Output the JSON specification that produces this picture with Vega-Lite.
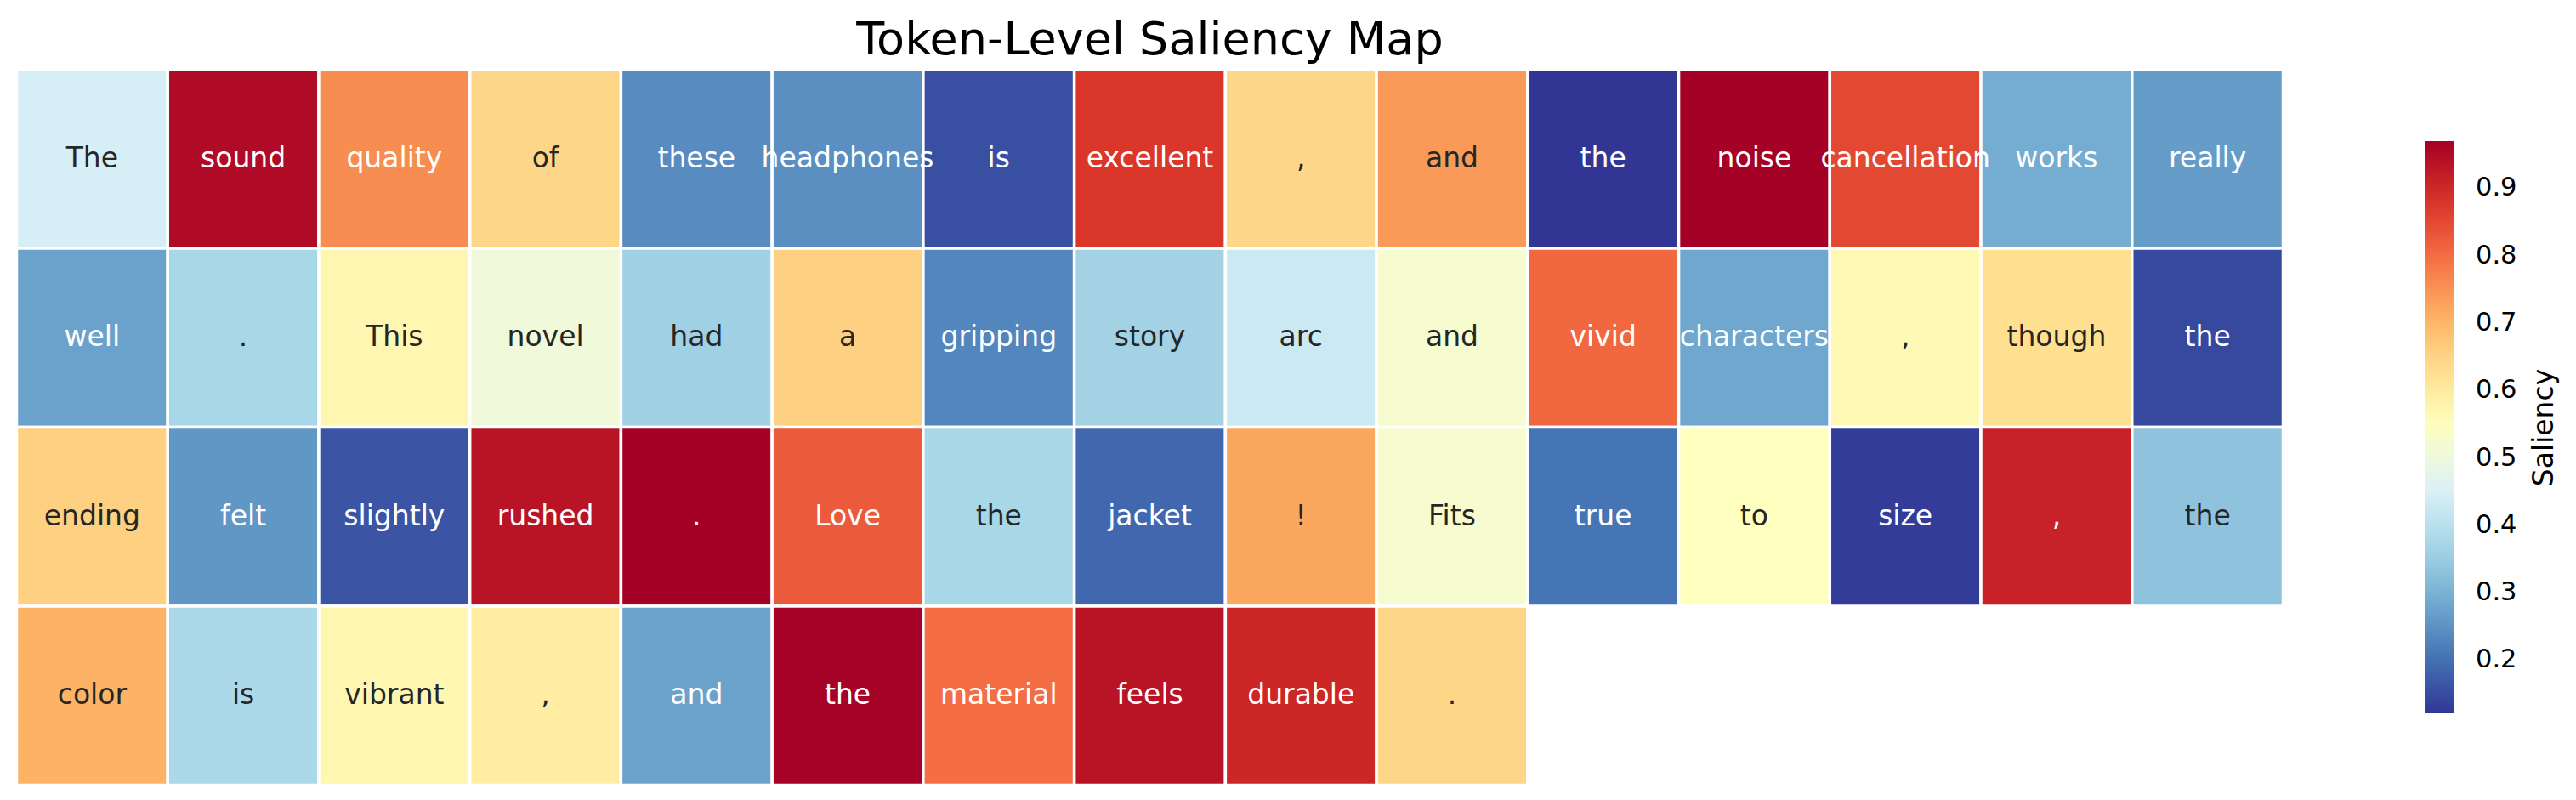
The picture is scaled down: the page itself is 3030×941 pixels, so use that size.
{
  "$schema": "https://vega.github.io/schema/vega-lite/v6.json",
  "width": 2666,
  "height": 842,
  "autosize": {"type": "none"},
  "padding": {"left": 19.5, "top": 81.5, "right": 344.5, "bottom": 17.5},
  "background": "white",
  "config": {"view": {"stroke": null}, "font": "DejaVu Sans"},
  "title": {
    "text": "Token-Level Saliency Map",
    "fontSize": 54,
    "font": "DejaVu Sans",
    "fontWeight": "normal",
    "color": "black",
    "anchor": "middle",
    "frame": "group",
    "baseline": "alphabetic",
    "offset": 20,
    "dy": 58
  },
  "data": {
    "values": [
      {"r": 0, "c": 0, "tok": "The", "v": 0.444},
      {"r": 0, "c": 1, "tok": "sound", "v": 0.953},
      {"r": 0, "c": 2, "tok": "quality", "v": 0.758},
      {"r": 0, "c": 3, "tok": "of", "v": 0.647},
      {"r": 0, "c": 4, "tok": "these", "v": 0.240},
      {"r": 0, "c": 5, "tok": "headphones", "v": 0.245},
      {"r": 0, "c": 6, "tok": "is", "v": 0.155},
      {"r": 0, "c": 7, "tok": "excellent", "v": 0.877},
      {"r": 0, "c": 8, "tok": ",", "v": 0.647},
      {"r": 0, "c": 9, "tok": "and", "v": 0.741},
      {"r": 0, "c": 10, "tok": "the", "v": 0.121},
      {"r": 0, "c": 11, "tok": "noise", "v": 0.970},
      {"r": 0, "c": 12, "tok": "cancellation", "v": 0.851},
      {"r": 0, "c": 13, "tok": "works", "v": 0.291},
      {"r": 0, "c": 14, "tok": "really", "v": 0.265},
      {"r": 1, "c": 0, "tok": "well", "v": 0.274},
      {"r": 1, "c": 1, "tok": ".", "v": 0.371},
      {"r": 1, "c": 2, "tok": "This", "v": 0.571},
      {"r": 1, "c": 3, "tok": "novel", "v": 0.505},
      {"r": 1, "c": 4, "tok": "had", "v": 0.359},
      {"r": 1, "c": 5, "tok": "a", "v": 0.656},
      {"r": 1, "c": 6, "tok": "gripping", "v": 0.231},
      {"r": 1, "c": 7, "tok": "story", "v": 0.363},
      {"r": 1, "c": 8, "tok": "arc", "v": 0.427},
      {"r": 1, "c": 9, "tok": "and", "v": 0.520},
      {"r": 1, "c": 10, "tok": "vivid", "v": 0.809},
      {"r": 1, "c": 11, "tok": "characters", "v": 0.282},
      {"r": 1, "c": 12, "tok": ",", "v": 0.562},
      {"r": 1, "c": 13, "tok": "though", "v": 0.630},
      {"r": 1, "c": 14, "tok": "the", "v": 0.146},
      {"r": 2, "c": 0, "tok": "ending", "v": 0.656},
      {"r": 2, "c": 1, "tok": "felt", "v": 0.257},
      {"r": 2, "c": 2, "tok": "slightly", "v": 0.163},
      {"r": 2, "c": 3, "tok": "rushed", "v": 0.936},
      {"r": 2, "c": 4, "tok": ".", "v": 0.970},
      {"r": 2, "c": 5, "tok": "Love", "v": 0.826},
      {"r": 2, "c": 6, "tok": "the", "v": 0.371},
      {"r": 2, "c": 7, "tok": "jacket", "v": 0.189},
      {"r": 2, "c": 8, "tok": "!", "v": 0.724},
      {"r": 2, "c": 9, "tok": "Fits", "v": 0.520},
      {"r": 2, "c": 10, "tok": "true", "v": 0.206},
      {"r": 2, "c": 11, "tok": "to", "v": 0.546},
      {"r": 2, "c": 12, "tok": "size", "v": 0.129},
      {"r": 2, "c": 13, "tok": ",", "v": 0.911},
      {"r": 2, "c": 14, "tok": "the", "v": 0.333},
      {"r": 3, "c": 0, "tok": "color", "v": 0.707},
      {"r": 3, "c": 1, "tok": "is", "v": 0.376},
      {"r": 3, "c": 2, "tok": "vibrant", "v": 0.571},
      {"r": 3, "c": 3, "tok": ",", "v": 0.596},
      {"r": 3, "c": 4, "tok": "and", "v": 0.274},
      {"r": 3, "c": 5, "tok": "the", "v": 0.968},
      {"r": 3, "c": 6, "tok": "material", "v": 0.800},
      {"r": 3, "c": 7, "tok": "feels", "v": 0.936},
      {"r": 3, "c": 8, "tok": "durable", "v": 0.902},
      {"r": 3, "c": 9, "tok": ".", "v": 0.647}
    ]
  },
  "encoding": {
    "x": {"field": "c", "type": "ordinal", "axis": null, "scale": {"domain": [0,1,2,3,4,5,6,7,8,9,10,11,12,13,14], "paddingInner": 0, "paddingOuter": 0}},
    "y": {
      "field": "r", "type": "ordinal",
      "scale": {"domain": [0,1,2,3], "paddingInner": 0, "paddingOuter": 0},
      "axis": {
        "orient": "right",
        "title": "Saliency",
        "labels": false,
        "ticks": false,
        "domain": false,
        "grid": false,
        "titleAngle": 270,
        "titleX": 306.5,
        "titleY": 421,
        "titleAlign": "center",
        "titleBaseline": "middle",
        "titleFontSize": 33,
        "titleFont": "DejaVu Sans",
        "titleFontWeight": "normal",
        "titleColor": "black"
      }
    }
  },
  "layer": [
    {
      "mark": {"type": "rect", "stroke": "white", "strokeWidth": 3.5},
      "encoding": {
        "color": {
          "field": "v",
          "type": "quantitative",
          "title": null,
          "scale": {
            "domain": [0.121, 0.2059, 0.2908, 0.3757, 0.4606, 0.5455, 0.6304, 0.7153, 0.8002, 0.8851, 0.970],
            "range": ["#313695", "#4575b4", "#74add1", "#abd9e9", "#e0f3f8", "#ffffbf", "#fee090", "#fdae61", "#f46d43", "#d73027", "#a50026"],
            "interpolate": "rgb"
          },
          "legend": {
            "type": "gradient",
            "direction": "vertical",
            "orient": "none",
            "legendX": 2832.5,
            "legendY": 84.5,
            "padding": 0,
            "gradientLength": 673,
            "gradientThickness": 34,
            "gradientStrokeWidth": 0,
            "values": [0.2, 0.3, 0.4, 0.5, 0.6, 0.7, 0.8, 0.9],
            "format": ".1f",
            "labelFontSize": 30.5,
            "labelFont": "DejaVu Sans",
            "labelColor": "black",
            "labelOffset": 26,
            "labelOverlap": false
          }
        }
      }
    },
    {
      "mark": {"type": "text", "fontSize": 33, "font": "DejaVu Sans", "align": "center", "baseline": "middle"},
      "encoding": {
        "text": {"field": "tok"},
        "color": {
          "condition": {"test": "datum.v >= 0.31 && datum.v <= 0.75", "value": "#262626"},
          "value": "white"
        }
      }
    }
  ]
}
